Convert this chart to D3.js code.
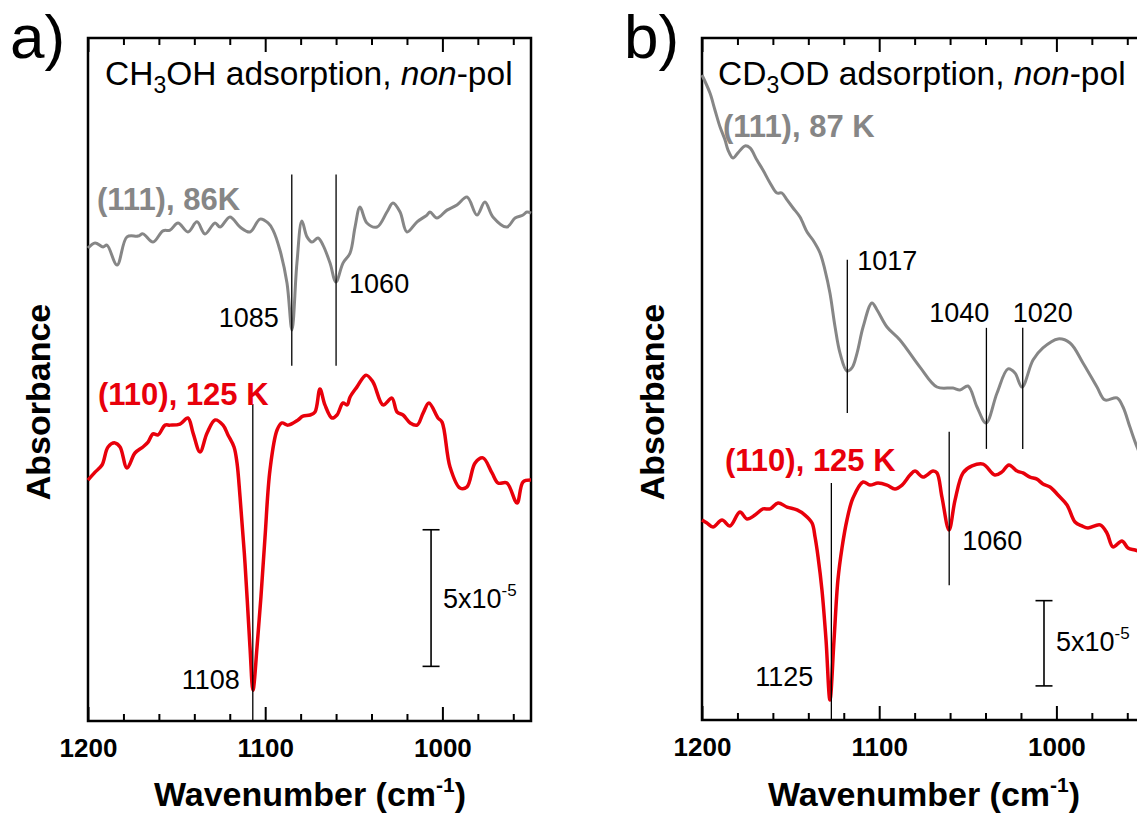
<!DOCTYPE html>
<html>
<head>
<meta charset="utf-8">
<script src="https://d3js.org/d3.v7.min.js"></script>
<style>
  body { margin: 0; background: #fff; }
  svg text { font-family: "Liberation Sans", Arial, sans-serif; fill: #000; }
  .axis text { font-size: 26px; font-weight: bold; }
  .axis line { stroke: #000; stroke-width: 2px; }
  .axis path { display: none; }
  .frame { fill: none; stroke: #000; stroke-width: 2.5px; }
  .marker { stroke: #000; stroke-width: 1.3px; }
</style>
</head>
<body>
<svg id="chart" width="1137" height="825"></svg>
<script>

// ---- data: wavenumber (cm-1) and absorbance (1e-5, offset) ----

// panel a, CH3OH
const wnA111 = [1200,1196,1191.5,1189.3,1183.6,1178,1171.8,1169,1163.3,1157.7,1153.7,1149.2,1143.6,1138.5,1134,
  1128.3,1125.5,1119.9,1114.2,1108.6,1102.9,1098.4,1095.6,1091.7,1087.7,1084.9,1082.1,1079.3,1076.4,1073.6,
  1070.2,1067.4,1063.4,1060.1,1056.1,1052.1,1049.3,1046.5,1042.6,1036.9,1031.3,1027.9,1023.9,1020,1014.3,
  1008.7,1007,1003.1,997.4,991.8,986.1,980.5,976,971.5,963.6,959,954.5,952.3,950];
const absA111 = [17.31,17.5,17.35,17.42,16.69,17.72,17.75,17.83,17.53,17.94,17.97,18.23,17.9,18.27,17.83,
  18.23,18.08,18.45,18.08,17.9,18.37,18.23,17.97,17.24,16.03,14.31,16.76,18.3,17.72,17.53,
  17.68,17.42,16.76,16.07,16.76,17.13,18.08,18.81,18.23,18.08,18.63,18.96,18.63,17.9,18.27,
  18.52,18.63,18.41,18.7,18.89,19.18,18.52,19.0,18.45,18.08,18.41,18.52,18.63,18.59];

const wnA110 = [1200,1196,1192.1,1188.7,1184.8,1181.9,1178,1173.5,1169,1166.1,1163.3,1160.5,1156.5,1153.7,1148.1,
  1143.6,1140.7,1136.8,1132.8,1128.3,1123.8,1121,1117.6,1115.9,1114.2,1111.4,1108.6,1106.9,1104.6,1102.4,
  1100.1,1097.3,1093.3,1090.5,1087.1,1081.5,1078.7,1074.7,1071.9,1069.1,1066.3,1062.3,1059.5,1056.1,1053.8,
  1052.1,1048.2,1043.1,1039.2,1033.5,1028.5,1025.6,1022.2,1018.2,1014.3,1010.9,1007.6,1002.5,1000.2,995.7,
  990.1,986.1,981.6,977.1,972,968.6,963.6,957.9,954.5,950];
const absA110 = [8.82,9.11,9.37,10.03,10.18,10.03,9.26,9.81,10.03,10.21,10.51,10.47,10.83,10.83,10.87,
  11.09,10.54,9.85,10.54,11.02,10.83,10.47,10.03,9.44,8.2,5.78,2.71,1.13,2.71,4.54,
  6.73,9.19,10.65,10.91,10.83,11.02,11.16,11.2,11.31,12.15,11.57,11.09,11.2,11.64,11.57,
  11.86,12.23,12.66,12.41,11.57,11.82,11.31,11.2,10.91,10.83,11.27,11.64,11.09,10.94,9.3,
  8.53,8.57,9.44,9.63,9.08,8.71,8.71,7.98,8.75,8.82];

// panel b, CD3OD
const wnB111 = [1200,1195.5,1192.7,1189.8,1187,1185.3,1182.5,1179.7,1175.7,1172.9,1169,1165.6,1161.6,1157.7,1154.9,
  1152,1148.6,1144.7,1140.7,1137.4,1133.4,1130.6,1127.8,1124.9,1122.1,1118.2,1115.4,1112.5,1109.1,1104.1,
  1101.2,1095.6,1088.3,1077,1067.4,1058.4,1054.4,1049.9,1044.8,1039.7,1033.5,1027.3,1023.4,1019.4,1013.2,
  1007.6,999.1,992.3,985,977.1,972.6,965.8,962.4,958.5,954.5,950];
const absB111 = [37.83,36.77,35.78,34.78,34.02,33.43,32.96,33.26,33.67,33.55,32.84,32.26,31.5,30.91,30.91,
  30.5,30.03,29.5,28.62,28.15,27.39,26.39,25.04,23.05,21.52,20.47,20.65,21.52,23.05,24.46,
  24.05,23.05,22.29,20.7,19.53,19.47,19.35,19.59,18.36,17.42,19.18,20.59,20.35,19.53,21.11,
  21.82,22.35,22.11,20.94,19.53,18.77,18.89,18.36,17.18,16.01,14.96];

const wnB110 = [1200,1197.2,1193.8,1188.7,1184.2,1178.6,1174.6,1170.1,1165.6,1161.6,1157.1,1152,1146.4,1141.9,1137.9,
  1136.2,1134.5,1132.3,1130,1127.8,1125.5,1123.3,1121,1118.2,1114.8,1109.1,1105.2,1100.7,1095.6,1091.1,
  1087.1,1082.6,1079.8,1075.3,1069.6,1067.4,1064.6,1060.6,1057.2,1052.7,1047.6,1041.4,1034.7,1030.7,1026.8,
  1022.2,1018.9,1014.9,1011,1007.6,1003.6,999.1,994,989.5,985.6,982.2,975.4,971.5,968.1,963,
  959.6,955.6,950];
const absB110 = [11.73,11.55,11.32,11.73,11.38,12.2,11.79,12.02,12.38,12.38,12.73,12.49,12.32,12.02,11.55,
  10.73,9.56,7.62,4.69,1.17,4.69,8.21,10.09,11.73,13.02,13.96,13.78,13.9,13.78,13.55,
  13.78,14.37,14.6,14.25,14.6,14.49,13.08,11.14,12.9,14.49,14.9,15.01,14.37,14.55,14.96,
  14.6,14.49,14.25,14.13,13.84,13.67,13.2,12.61,11.61,11.38,11.26,11.44,10.97,10.15,10.5,
  10.09,9.97,9.79];

// peak markers: wavenumber, label, vertical extent (absorbance units)
const peaksA = [
  { wn: 1085, label: "1085", from: 13.0, to: 20.0 },
  { wn: 1060, label: "1060", from: 13.0, to: 20.0 },
  { wn: 1107, label: "1108", from: 0,    to: 11.6 }
];
const peaksB = [
  { wn: 1118, label: "1017", from: 18.0, to: 27.0 },
  { wn: 1039.5, label: "1040", from: 15.9, to: 23.0 },
  { wn: 1019, label: "1020", from: 15.9, to: 23.0 },
  { wn: 1060.5, label: "1060", from: 7.9, to: 16.9 },
  { wn: 1127, label: "1125", from: 0,   to: 13.9 }
];

// x axis ticks
const majorTicks = [1200, 1100, 1000];
const minorTicks = [1180, 1160, 1140, 1120, 1080, 1060, 1040, 1020, 980, 960];

const svg = d3.select("#chart");
svg.append("rect").attr("width", 1137).attr("height", 825).attr("fill", "#fff");

const grey = "#868686";
const red = "#e8000b";

function drawPanel(p) {
  const x = d3.scaleLinear().domain([1200, 950]).range([p.left, p.left + 443]);
  const y = d3.scaleLinear().domain(p.yDomain).range([p.bottom, 38]);
  const g = svg.append("g");

  // ticks (inward, top and bottom)
  g.append("g").attr("class", "axis").attr("transform", `translate(0,${p.bottom})`)
    .call(d3.axisBottom(x).tickValues(majorTicks).tickSize(-14).tickPadding(18).tickFormat(d3.format("d")));
  g.append("g").attr("class", "axis").attr("transform", `translate(0,${p.bottom})`)
    .call(d3.axisBottom(x).tickValues(minorTicks).tickSize(-7).tickFormat(""));
  g.append("g").attr("class", "axis").attr("transform", "translate(0,38)")
    .call(d3.axisTop(x).tickValues(majorTicks).tickSize(-14).tickFormat(""));
  g.append("g").attr("class", "axis").attr("transform", "translate(0,38)")
    .call(d3.axisTop(x).tickValues(minorTicks).tickSize(-7).tickFormat(""));

  g.append("rect").attr("class", "frame")
    .attr("x", x(1200)).attr("y", y(p.yDomain[1]))
    .attr("width", x(950) - x(1200)).attr("height", y(p.yDomain[0]) - y(p.yDomain[1]));

  // spectra
  const line = d3.line().x(d => x(d[0])).y(d => y(d[1])).curve(d3.curveCatmullRom.alpha(0.5));
  p.series.forEach(s => {
    g.append("path").datum(d3.zip(s.wn, s.abs))
      .attr("fill", "none").attr("stroke", s.color).attr("stroke-width", s.width)
      .attr("stroke-linejoin", "round").attr("d", line);
  });

  // peak markers
  g.selectAll("line.marker").data(p.peaks).join("line").attr("class", "marker")
    .attr("x1", d => x(d.wn)).attr("x2", d => x(d.wn))
    .attr("y1", d => y(d.from)).attr("y2", d => y(d.to));

  // scale bar 5x10^-5
  const sb = g.append("g").attr("stroke", "#000").attr("stroke-width", 1.6);
  sb.append("line").attr("x1", x(p.barWn)).attr("x2", x(p.barWn)).attr("y1", y(2)).attr("y2", y(7));
  [2, 7].forEach(v => sb.append("line")
    .attr("x1", x(p.barWn) - 8.5).attr("x2", x(p.barWn) + 8.5).attr("y1", y(v)).attr("y2", y(v)));
  const sbt = g.append("text").attr("x", x(p.barWn) + 12).attr("y", (y(2) + y(7)) / 2 + p.barTextDy)
    .attr("font-size", 27);
  sbt.append("tspan").text("5x10");
  sbt.append("tspan").attr("font-size", 17).attr("dy", -12).text("-5");

  return { g, x, y };
}

function title(g, xPos, mol1, mol2) {
  const t = g.append("text").attr("x", xPos).attr("y", 85).attr("font-size", 33.5);
  t.append("tspan").text(mol1);
  t.append("tspan").attr("font-size", 23).attr("dy", 8).text("3");
  t.append("tspan").attr("dy", -8).text(mol2 + " adsorption, ");
  t.append("tspan").attr("font-style", "italic").text("non");
  t.append("tspan").text("-pol");
}

function axisTitles(g, left) {
  const t = g.append("text").attr("x", left + 222).attr("y", 806).attr("text-anchor", "middle")
    .attr("font-size", 34).attr("font-weight", "bold");
  t.append("tspan").text("Wavenumber (cm");
  t.append("tspan").attr("font-size", 21).attr("dy", -14).text("-1");
  t.append("tspan").attr("dy", 14).text(")");
  g.append("text").attr("transform", `translate(${left - 38},402) rotate(-90)`)
    .attr("text-anchor", "middle").attr("font-size", 34).attr("font-weight", "bold").text("Absorbance");
}

// ---- panel a ----
const A = drawPanel({
  left: 88, bottom: 721, yDomain: [0, 25], barWn: 1006.4, barTextDy: 10,
  peaks: peaksA,
  series: [
    { wn: wnA111, abs: absA111, color: grey, width: 3 },
    { wn: wnA110, abs: absA110, color: red, width: 3.5 }
  ]
});
title(A.g, 105, "CH", "OH");
axisTitles(A.g, 88);
A.g.append("text").attr("x", 10).attr("y", 58).attr("font-size", 62).text("a)");
A.g.append("text").attr("x", 97).attr("y", 210).attr("font-size", 31).attr("font-weight", "bold")
  .style("fill", grey).text("(111), 86K");
A.g.append("text").attr("x", 98).attr("y", 405).attr("font-size", 31).attr("font-weight", "bold")
  .style("fill", red).text("(110), 125 K");
A.g.append("text").attr("x", A.x(1085) - 13).attr("y", 327).attr("font-size", 27).attr("text-anchor", "end").text("1085");
A.g.append("text").attr("x", A.x(1060) + 13).attr("y", 293).attr("font-size", 27).text("1060");
A.g.append("text").attr("x", A.x(1107) - 13).attr("y", 689).attr("font-size", 27).attr("text-anchor", "end").text("1108");

// ---- panel b ----
const B = drawPanel({
  left: 702, bottom: 720, yDomain: [0, 40], barWn: 1007, barTextDy: 8,
  peaks: peaksB,
  series: [
    { wn: wnB111, abs: absB111, color: grey, width: 3 },
    { wn: wnB110, abs: absB110, color: red, width: 3.5 }
  ]
});
title(B.g, 718, "CD", "OD");
axisTitles(B.g, 702);
B.g.append("text").attr("x", 624).attr("y", 58).attr("font-size", 62).text("b)");
B.g.append("text").attr("x", 723).attr("y", 137).attr("font-size", 31).attr("font-weight", "bold")
  .style("fill", grey).text("(111), 87 K");
B.g.append("text").attr("x", 725).attr("y", 471).attr("font-size", 31).attr("font-weight", "bold")
  .style("fill", red).text("(110), 125 K");
B.g.append("text").attr("x", B.x(1118) + 10).attr("y", 270).attr("font-size", 27).text("1017");
B.g.append("text").attr("x", B.x(1039.5) + 3).attr("y", 322).attr("font-size", 27).attr("text-anchor", "end").text("1040");
B.g.append("text").attr("x", B.x(1019) - 10).attr("y", 322).attr("font-size", 27).text("1020");
B.g.append("text").attr("x", B.x(1060.5) + 13).attr("y", 550).attr("font-size", 27).text("1060");
B.g.append("text").attr("x", B.x(1127) - 18).attr("y", 686).attr("font-size", 27).attr("text-anchor", "end").text("1125");

</script>
</body>
</html>
